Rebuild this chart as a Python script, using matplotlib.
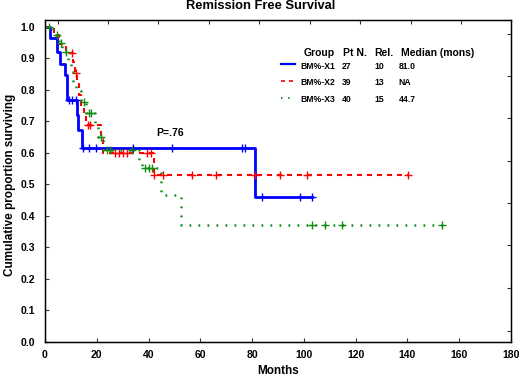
import numpy as np
import matplotlib
matplotlib.use("Agg")
import matplotlib.pyplot as plt

plt.rcParams['font.family'] = ['Liberation Sans', 'DejaVu Sans']
plt.rcParams['font.weight'] = 'bold'

# BM%-X1 : relapse times (months) and survival after each step, censored times
x1_evt_t = [1.9, 4.8, 5.8, 7.7, 8.4, 12.5, 12.9, 14.4, 81.1]
x1_evt_s = [0.964, 0.922, 0.883, 0.846, 0.769, 0.72, 0.672, 0.616, 0.461]
x1_cen_t = [9.3, 10.6, 11.9, 14.8, 17.0, 19.6, 34.1, 48.9, 76.0, 77.2, 83.7, 98.5, 103.0]

# BM%-X2
x2_evt_t = [3.5, 5.5, 8.0, 11.0, 11.6, 12.4, 13.2, 14.0, 15.0, 16.0, 21.5, 22.5, 42.0]
x2_evt_s = [0.974, 0.946, 0.918, 0.889, 0.855, 0.82, 0.785, 0.75, 0.72, 0.688, 0.644, 0.600, 0.530]
x2_cen_t = [10.5, 11.8, 16.5, 17.2, 27.0, 28.5, 30.0, 31.5, 39.3, 40.8, 42.1, 45.4,
            56.7, 66.0, 81.1, 90.8, 101.1, 140.4]

# BM%-X3
x3_evt_t = [3.0, 5.5, 6.5, 9.0, 10.0, 11.0, 12.0, 14.0, 16.0, 19.5, 20.5, 22.5,
            36.5, 37.5, 44.8, 52.4]
x3_evt_s = [0.975, 0.95, 0.92, 0.886, 0.856, 0.826, 0.797, 0.762, 0.727, 0.69, 0.65,
            0.609, 0.575, 0.552, 0.465, 0.372]
x3_cen_t = [1.7, 4.7, 6.0, 8.0, 15.0, 17.0, 17.8, 21.5, 24.0, 25.0, 33.7, 38.5, 40.0,
            41.5, 103.0, 108.2, 114.6, 153.2]

groups = ['BM%-X1', 'BM%-X2', 'BM%-X3']
pt_n = ['27', '39', '40']
rel = ['10', '13', '15']
median = ['81.0', 'NA', '44.7']

x_ticks = [0, 20, 40, 60, 80, 100, 120, 140, 160, 180]
y_ticks = [0.0, 0.1, 0.2, 0.3, 0.4, 0.5, 0.6, 0.7, 0.8, 0.9, 1.0]
top_ticks = [5.1, 24.4, 43.7, 63.3, 82.6, 102.3, 121.6, 141.2, 160.5]
right_ticks = [0.036, 0.171, 0.307, 0.441, 0.576, 0.710, 0.845, 0.979]

colors = ['#0000ff', '#ff0000', '#108a10']
styles = ['-', (0, (2.4, 2.4)), (0, (0.7, 2.9))]
widths = [2.0, 1.5, 1.8]

fig = plt.figure(figsize=(5.2, 3.77), dpi=100)
ax = fig.add_axes([45 / 520, 35 / 377, 466 / 520, 322 / 377])

series = [(x1_evt_t, x1_evt_s, x1_cen_t), (x2_evt_t, x2_evt_s, x2_cen_t),
          (x3_evt_t, x3_evt_s, x3_cen_t)]
for (et, es, ct), c, ls, lw in zip(series, colors, styles, widths):
    t = [0] + et + [max(ct)]
    s = [1.0] + es + [es[-1]]
    ax.step(t, s, where='post', color=c, linestyle=ls, lw=lw)
    levels = np.array([1.0] + es)
    idx = np.searchsorted(et, ct, side='right')
    ax.plot(ct, levels[idx], linestyle='none', marker='+', ms=6, mew=1.0, color=c)

ax.set_xlim(0, 180)
ax.set_ylim(0, 1.022)
ax.set_xticks(x_ticks)
ax.set_yticks(y_ticks)
ax.set_yticklabels(['%.1f' % v for v in y_ticks])
ax.tick_params(direction='in', length=3, labelsize=7.5, color='#333333', width=0.8)
ax.tick_params(axis='y', pad=7)
ax.tick_params(axis='x', pad=6)
for sp in ax.spines.values():
    sp.set_color('#333333')
    sp.set_linewidth(1.0)

axt = ax.twiny()
axt.set_xlim(ax.get_xlim())
axt.set_xticks(top_ticks)
axt.set_xticklabels([])
axt.tick_params(direction='in', length=3, color='#333333', width=0.8)
axr = ax.twinx()
axr.set_ylim(ax.get_ylim())
axr.set_yticks(right_ticks)
axr.set_yticklabels([])
axr.tick_params(direction='in', length=3, color='#333333', width=0.8)

# legend table
hdr_y = 0.917
row_y = [0.875, 0.823, 0.770]
ax.text(99.8, hdr_y, 'Group', fontsize=7.5, va='center')
ax.text(115.0, hdr_y, 'Pt N.', fontsize=7.5, va='center')
ax.text(127.2, hdr_y, 'Rel.', fontsize=7.5, va='center')
ax.text(137.4, hdr_y, 'Median (mons)', fontsize=7.5, va='center')
for i in range(3):
    ax.plot([91.0, 96.6], [row_y[i] + 0.006] * 2, color=colors[i], linestyle=styles[i], lw=widths[i] * 0.8)
    ax.text(98.8, row_y[i], groups[i], fontsize=6.2, va='center')
    ax.text(114.7, row_y[i], pt_n[i], fontsize=6.2, va='center')
    ax.text(127.1, row_y[i], rel[i], fontsize=6.2, va='center')
    ax.text(136.5, row_y[i], median[i], fontsize=6.2, va='center')

ax.text(42.9, 0.664, 'P=.76', fontsize=7.5, va='center')

fig.text(261 / 520, 1 - 6 / 377, 'Remission Free Survival', fontsize=9.3, ha='center', va='center')
fig.text(278 / 520, 1 - 371 / 377, 'Months', fontsize=8.5, ha='center', va='center')
fig.text(10 / 520, 1 - 185 / 377, 'Cumulative proportion surviving', fontsize=8.5,
         ha='center', va='center', rotation=90)

fig.savefig('out.png', dpi=100)
